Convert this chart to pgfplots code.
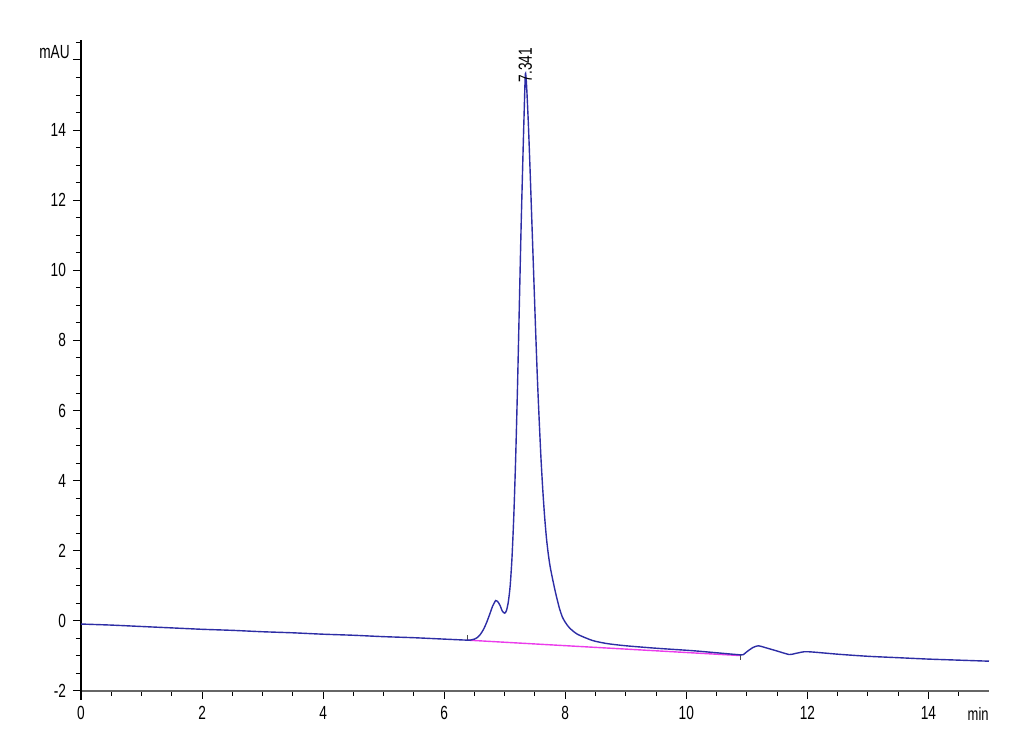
\documentclass[border=0pt]{standalone}
\usepackage{fontspec}
\setmainfont{Liberation Sans}[FakeStretch=0.72]
\usepackage{pgfplots}
\pgfplotsset{compat=1.18}
\definecolor{trace}{RGB}{45,45,165}
\definecolor{base}{RGB}{235,60,235}
\begin{document}
\begin{tikzpicture}[x=1pt,y=1pt]
\useasboundingbox (-40.5,-32) rectangle (474.5,345.5);
\begin{axis}[
  at={(0,0)}, anchor=south west,
  scale only axis, width=454pt, height=325.5pt,
  xmin=0, xmax=15, ymin=-2, ymax=16.57,
  axis x line=bottom, axis y line=left,
  axis line style={-},
  x axis line style={draw=gray!80!black, line width=0.8pt},
  y axis line style={draw=black, line width=0.6pt, shorten <=-4.5pt},
  xtick={0,2,...,14}, minor xtick={0.5,1,...,14.5},
  ytick={-2,0,...,16}, minor ytick={-1.5,-1,...,16.5},
  yticklabels={-2,0,2,4,6,8,10,12,14,},
  tick align=outside, tickpos=left,
  major tick length=4pt, minor tick length=2.5pt,
  every tick/.style={black, line width=0.5pt},
  tick label style={font=\fontsize{9.5}{10}\selectfont},
  /pgf/number format/assume math mode=true,
  clip=false,
]
\addplot[base, line width=0.7pt] coordinates {(6.39,-0.55) (10.9,-0.99)};
\addplot[black!70, line width=0.5pt] coordinates {(6.39,-0.55) (6.39,-0.4)};
\addplot[black!70, line width=0.5pt] coordinates {(10.9,-0.97) (10.9,-1.12)};
\addplot[trace, line width=0.7pt, smooth, tension=0.4] coordinates {
(0,-0.09) (0.5,-0.12) (1,-0.16) (1.5,-0.2) (2,-0.24) (2.5,-0.27) (3,-0.31)
(3.5,-0.34) (4,-0.38) (4.5,-0.41) (5,-0.45) (5.5,-0.48) (6,-0.52) (6.39,-0.55)
(6.45,-0.54) (6.5,-0.52) (6.55,-0.47) (6.6,-0.38) (6.65,-0.24) (6.7,-0.05)
(6.75,0.18) (6.8,0.42) (6.85,0.58) (6.88,0.56) (6.92,0.45) (6.96,0.28) (7.0,0.22)
(7.03,0.3) (7.06,0.55) (7.09,1.0) (7.12,1.8) (7.15,3.0) (7.18,4.6) (7.21,6.6)
(7.24,8.9) (7.27,11.2) (7.30,13.2) (7.32,14.45) (7.341,15.6)
(7.36,15.3) (7.39,14.2) (7.42,12.8) (7.45,11.3) (7.48,9.8) (7.51,8.3) (7.54,6.9)
(7.57,5.7) (7.60,4.6) (7.63,3.7) (7.66,2.95) (7.69,2.35) (7.72,1.9) (7.75,1.55)
(7.79,1.2) (7.84,0.8) (7.9,0.38) (7.95,0.12) (8.0,-0.04) (8.07,-0.2) (8.2,-0.38)
(8.45,-0.56) (8.7,-0.65) (9.0,-0.71) (9.5,-0.78) (10.1,-0.85) (10.5,-0.91) (10.9,-0.97)
(10.95,-0.95) (11.0,-0.88) (11.1,-0.76) (11.19,-0.71) (11.3,-0.76) (11.5,-0.86)
(11.7,-0.96) (11.8,-0.93) (11.95,-0.88) (12.1,-0.89) (12.5,-0.95) (13,-1.01)
(13.5,-1.05) (14,-1.09) (14.5,-1.12) (15,-1.15)};
\node[rotate=90, anchor=west, inner sep=0pt, font=\fontsize{9.5}{10}\selectfont] at (axis cs:7.341,15.35) {7.341};
\node[anchor=base east, inner sep=0pt, font=\fontsize{9.5}{10}\selectfont] at (axis cs:-0.18,16.05) {mAU};
\node[anchor=base east, inner sep=0pt, font=\fontsize{9}{10}\selectfont] at (axis cs:15,-2.83) {min};
\end{axis}
\end{tikzpicture}
\end{document}
